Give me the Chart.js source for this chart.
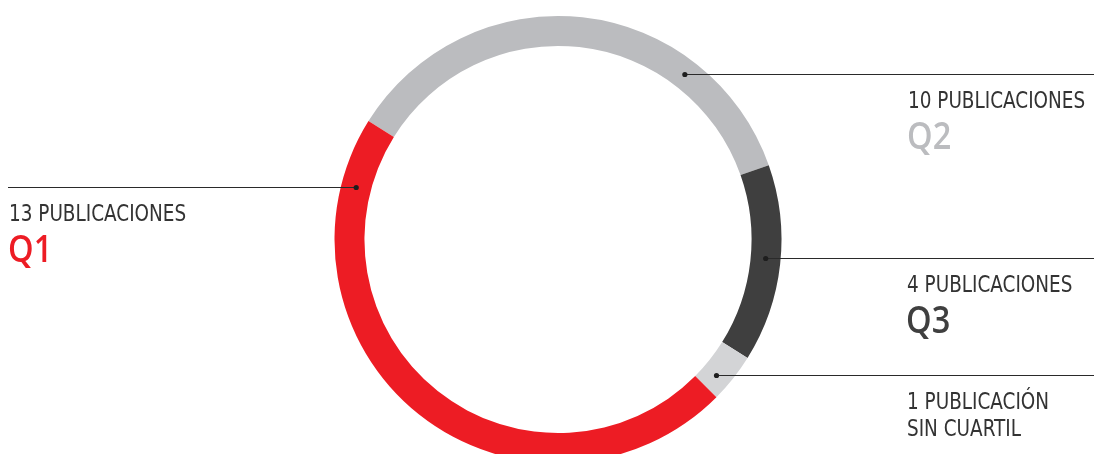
<!DOCTYPE html>
<html>
<head>
<meta charset="utf-8">
<script src="https://cdn.jsdelivr.net/npm/chart.js@4.4.1/dist/chart.umd.min.js"></script>
<style>
html,body{margin:0;padding:0;background:#fff;overflow:hidden}
#wrap{position:relative;width:1094px;height:454px}
</style>
</head>
<body>
<div id="wrap"><canvas id="c" width="1094" height="454"></canvas></div>
<script>
// ---- data ----
const categories = ['Q2', 'Q3', 'Sin cuartil', 'Q1'];
const values = [10, 4, 1, 13];
const countLabels = ['10 PUBLICACIONES', '4 PUBLICACIONES', '1 PUBLICACIÓN', '13 PUBLICACIONES'];
const bigLabels = ['Q2', 'Q3', 'SIN CUARTIL', 'Q1'];

// ---- styles ----
const colors = ['#BBBCBF', '#3F3F3F', '#D3D4D6', '#ED1C24'];
const bigColors = ['#BBBCBF', '#3F3F3F', '#333333', '#ED1C24'];
const bigIsSmall = [false, false, true, false];
const leaderY = [74, 258, 375, 187];
const side = ['right', 'right', 'right', 'left'];
const textX = [908, 907, 907, 9];

const FONT = '"DejaVu Sans Condensed", "DejaVu Sans", sans-serif';
const BIGFONT = '"Open Sans", "DejaVu Sans", sans-serif';

function drawScaled(ctx, text, x, y, sx) {
  ctx.save();
  ctx.translate(x, y);
  ctx.scale(sx, 1);
  ctx.fillText(text, 0, 0);
  ctx.restore();
}

const leaderPlugin = {
  id: 'leaders',
  afterDatasetsDraw(chart) {
    const ctx = chart.ctx;
    const meta = chart.getDatasetMeta(0);
    const arc0 = meta.data[0];
    const cx = arc0.x, cy = arc0.y;
    const rMid = (arc0.outerRadius + arc0.innerRadius) / 2;
    ctx.save();
    categories.forEach((c, i) => {
      const y = leaderY[i];
      const dy = y - cy;
      const dx = Math.sqrt(Math.max(rMid * rMid - dy * dy, 0));
      const px = side[i] === 'right' ? cx + dx : cx - dx;
      const endX = side[i] === 'right' ? chart.width : 8;
      ctx.strokeStyle = '#2a2a2a';
      ctx.lineWidth = 1.1;
      ctx.beginPath();
      ctx.moveTo(px, y + 0.5);
      ctx.lineTo(endX, y + 0.5);
      ctx.stroke();
      ctx.fillStyle = '#1e1e1e';
      ctx.beginPath();
      ctx.arc(px, y + 0.5, 2.6, 0, Math.PI * 2);
      ctx.fill();
      // text
      ctx.textAlign = 'left';
      ctx.textBaseline = 'alphabetic';
      ctx.fillStyle = '#333333';
      ctx.font = '23px ' + FONT;
      drawScaled(ctx, countLabels[i], textX[i], y + 34, 0.89);
      ctx.fillStyle = bigColors[i];
      if (bigIsSmall[i]) {
        drawScaled(ctx, bigLabels[i], textX[i], y + 61, 0.89);
      } else {
        ctx.font = '600 37px ' + BIGFONT;
        drawScaled(ctx, bigLabels[i], textX[i] - 1, y + 75, 0.88);
      }
    });
    ctx.restore();
  }
};

new Chart(document.getElementById('c'), {
  type: 'doughnut',
  data: {
    labels: categories,
    datasets: [{
      data: values,
      backgroundColor: colors,
      borderWidth: 0,
      hoverOffset: 0,
      clip: false
    }]
  },
  options: {
    responsive: false,
    animation: false,
    rotation: -58,
    cutout: '86.6%',
    radius: 223.5,
    layout: { padding: { left: 22, right: 0, top: 25, bottom: 0 } },
    plugins: {
      legend: { display: false },
      tooltip: { enabled: false }
    }
  },
  plugins: [leaderPlugin]
});
</script>
</body>
</html>
